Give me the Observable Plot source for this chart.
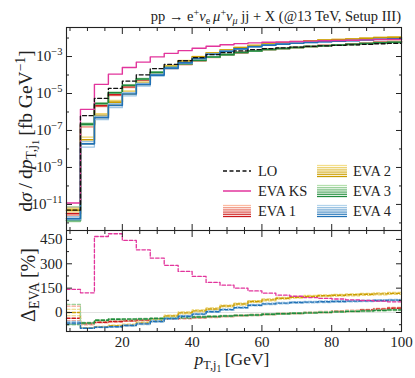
<!DOCTYPE html>
<html><head><meta charset="utf-8">
<script src="https://cdn.jsdelivr.net/npm/d3@7"></script>
<script src="https://cdn.jsdelivr.net/npm/@observablehq/plot@0.6"></script>
<style>
body{margin:0;background:#fff;}
#chart{position:relative;width:415px;height:378px;background:#fff;}
#chart svg{display:block;}
</style></head><body><div id="chart"></div>
<script>
// ---- data (bins of p_T,j1 in GeV) ----
const binEdges = [4, 8, 12, 16, 20, 24, 28, 32, 36, 40, 44, 48, 52, 56, 60, 64, 68, 72, 76, 80, 84, 88, 92, 96, 100];
// LO differential cross section [fb/GeV]
const loXsec = [4.9e-12, 6.3e-7, 5.5e-6, 1.9e-5, 4.7e-5, 1.02e-4, 2.2e-4, 3.8e-4, 5.9e-4, 8.7e-4, 1.26e-3, 1.62e-3, 2.0e-3, 2.34e-3, 2.69e-3, 2.95e-3, 3.24e-3, 3.55e-3, 3.8e-3, 4.0e-3, 4.27e-3, 4.57e-3, 4.9e-3, 5.1e-3];
// Delta_EVA [%] relative to LO
const ksDelta   = [142, 121, 468, 485, 444, 386, 335, 290, 253, 222, 185, 168, 150, 133, 119, 107, 100, 92, 87, 83, 78, 74, 70, 66];
const eva1Delta = [-35, -70, -60, -55, -51, -47, -43, -39, -35, -31, -27, -23, -19, -15, -11, -8, -5, -2, 2, 6, 10, 15, 20, 26];
const eva1Hi    = [39, -64, -55, -51, -47, -43, -39, -35, -31, -27, -23, -19, -15, -11, -7, -4, -1, 3, 7, 11, 15, 20, 25, 31];
const eva1Lo    = [-50, -76, -64, -59, -55, -51, -47, -43, -39, -35, -31, -27, -23, -19, -15, -12, -9, -6, -3, 1, 5, 10, 15, 21];
const eva2Delta = [0, -95, -88, -82, -76, -65, -48, -22, -2, 10, 22, 40, 52, 68, 78, 88, 94, 99, 103, 106, 109, 112, 115, 118];
const eva2Hi    = [20, -93, -85, -78, -71, -59, -42, -16, 4, 16, 28, 46, 58, 74, 84, 94, 100, 105, 109, 112, 115, 118, 121, 124];
const eva2Lo    = [-20, -97, -91, -86, -81, -71, -54, -28, -8, 4, 16, 34, 46, 62, 72, 82, 88, 93, 97, 100, 103, 106, 109, 112];
const eva3Delta = [-72, -65, -48, -42, -41, -40, -37, -34, -31, -28, -25, -22, -18, -15, -11, -8, -5, -2, 1, 4, 7, 10, 13, 16];
const eva3Hi    = [50, -60, -44, -38, -37, -36, -33, -30, -27, -24, -21, -18, -14, -11, -7, -4, -1, 2, 5, 8, 11, 14, 17, 20];
const eva3Lo    = [-76, -70, -52, -46, -45, -44, -41, -38, -35, -32, -29, -26, -22, -19, -15, -12, -9, -6, -3, 0, 3, 6, 9, 12];
const eva4Delta = [-65, -97, -91, -88, -80, -70, -55, -38, -23, -10, 5, 18, 30, 45, 53, 58, 62, 64, 66, 68, 70, 72, 74, 76];
const eva4Hi    = [-55, -96, -89, -85, -76, -65, -50, -33, -18, -5, 10, 23, 35, 50, 58, 63, 67, 69, 71, 73, 75, 77, 79, 81];
const eva4Lo    = [-70, -98, -93, -91, -84, -75, -60, -43, -28, -15, 0, 13, 25, 40, 48, 53, 57, 59, 61, 63, 65, 67, 69, 71];

const xMajorTicks = [20, 40, 60, 80, 100];
const xMinorTicks = [5, 10, 15, 25, 30, 35, 45, 50, 55, 65, 70, 75, 85, 90, 95];
const yTopTicks = [1e-3, 1e-5, 1e-7, 1e-9, 1e-11];
const yTopMinor = [1e-2, 1e-4, 1e-6, 1e-8, 1e-10, 1e-12];
const yBotTicks = [0, 150, 300, 450];
const yBotMinor = [-75, 75, 225, 375];

const ksColor = "#e2359c";
const evaSeries = [
  {name: "EVA 1", mid: eva1Delta, hi: eva1Hi, lo: eva1Lo, light: "#fcbba1", dark: "#cb181d"},
  {name: "EVA 2", mid: eva2Delta, hi: eva2Hi, lo: eva2Lo, light: "#f3df8a", dark: "#c99c00"},
  {name: "EVA 3", mid: eva3Delta, hi: eva3Hi, lo: eva3Lo, light: "#b5e0ae", dark: "#1f8a3e"},
  {name: "EVA 4", mid: eva4Delta, hi: eva4Hi, lo: eva4Lo, light: "#b3d4ec", dark: "#2171b5"}
];

const font = "'Liberation Serif', 'DejaVu Serif', serif";
const ink = "#222";
const W = 415, ML = 66, MR = 14;

const steps = (vals) => binEdges.map((x, i) => ({x, y: vals[Math.min(i, vals.length - 1)]}));
const toXsec = (delta) => loXsec.map((v, i) => v * (1 + delta[i] / 100));

function tickMarks(anchorsX, anchorsY, yMajor, yMinor) {
  const m = [];
  for (const a of anchorsX) {
    m.push(Plot.axisX({anchor: a, ticks: xMajorTicks, tickSize: -6, fill: null, stroke: ink, label: null}));
    m.push(Plot.axisX({anchor: a, ticks: xMinorTicks, tickSize: -3, fill: null, stroke: ink, label: null}));
  }
  for (const a of anchorsY) {
    m.push(Plot.axisY({anchor: a, ticks: yMajor, tickSize: -6, fill: null, stroke: ink, label: null}));
    m.push(Plot.axisY({anchor: a, ticks: yMinor, tickSize: -3, fill: null, stroke: ink, label: null}));
  }
  return m;
}

// ---- top panel ----
const topMarks = [];
for (const s of evaSeries) {
  const c1 = d3.interpolateRgb(s.light, s.dark)(0.15);
  topMarks.push(Plot.line(steps(toXsec(s.hi)), {x: "x", y: "y", curve: "step-after", stroke: c1, strokeWidth: 1.3}));
  topMarks.push(Plot.line(steps(toXsec(s.lo)), {x: "x", y: "y", curve: "step-after", stroke: c1, strokeWidth: 1.3}));
  topMarks.push(Plot.line(steps(toXsec(s.mid)), {x: "x", y: "y", curve: "step-after", stroke: s.dark, strokeWidth: 1.6}));
}
topMarks.push(Plot.line(steps(toXsec(ksDelta)), {x: "x", y: "y", curve: "step-after", stroke: ksColor, strokeWidth: 1.4}));
topMarks.push(Plot.line(steps(loXsec), {x: "x", y: "y", curve: "step-after", stroke: "#111", strokeWidth: 1.3, strokeDasharray: "4,2.5"}));

const topPlot = Plot.plot({
  width: W, height: 230, marginLeft: ML, marginRight: MR, marginTop: 27, marginBottom: 0,
  style: {fontFamily: font, fontSize: "14px", background: "white", color: ink},
  x: {domain: [4, 100]},
  y: {type: "log", domain: [Math.pow(10, -12.41), Math.pow(10, -1.43)]},
  marks: [
    ...topMarks,
    ...tickMarks(["top", "bottom"], ["left", "right"], yTopTicks, yTopMinor),
    Plot.axisY({anchor: "left", ticks: yTopTicks, tickSize: 0, tickPadding: 4, stroke: null, fill: ink, fontSize: 15,
      tickFormat: d => String(Math.round(Math.log10(d))), label: null}),
    Plot.frame({stroke: ink, strokeWidth: 1.1})
  ]
});

// ---- bottom panel ----
const botMarks = [Plot.ruleY([0], {stroke: "#e3e3e3", strokeWidth: 1})];
for (const s of evaSeries) {
  const c1 = d3.interpolateRgb(s.light, s.dark)(0.15);
  botMarks.push(Plot.line(steps(s.hi), {x: "x", y: "y", curve: "step-after", stroke: c1, strokeWidth: 1.2, strokeDasharray: "3.5,2"}));
  botMarks.push(Plot.line(steps(s.lo), {x: "x", y: "y", curve: "step-after", stroke: c1, strokeWidth: 1.2, strokeDasharray: "3.5,2"}));
  botMarks.push(Plot.line(steps(s.mid), {x: "x", y: "y", curve: "step-after", stroke: s.dark, strokeWidth: 1.4, strokeDasharray: "3.5,2"}));
}
botMarks.push(Plot.line(steps(ksDelta), {x: "x", y: "y", curve: "step-after", stroke: ksColor, strokeWidth: 1.3, strokeDasharray: "3.5,2"}));

const botPlot = Plot.plot({
  width: W, height: 148, marginLeft: ML, marginRight: MR, marginTop: 0, marginBottom: 47,
  style: {fontFamily: font, fontSize: "14px", background: "white", color: ink},
  x: {domain: [4, 100]},
  y: {domain: [-117, 505]},
  marks: [
    ...botMarks,
    ...tickMarks(["top", "bottom"], ["left", "right"], yBotTicks, yBotMinor),
    Plot.axisX({anchor: "bottom", ticks: xMajorTicks, tickSize: 0, tickPadding: 5, stroke: null, fill: ink, fontSize: 15, label: null}),
    Plot.axisY({anchor: "left", ticks: yBotTicks, tickSize: 0, tickPadding: 4, stroke: null, fill: ink, fontSize: 15, label: null}),
    Plot.frame({stroke: ink, strokeWidth: 1.1})
  ]
});

const chart = document.getElementById("chart");
chart.appendChild(topPlot);
chart.appendChild(botPlot);

// ---- rich text helpers ----
function rich(svg, x, y, parts, size, anchor, rotate) {
  const t = d3.select(svg).append("text")
    .attr("transform", `translate(${x},${y}) rotate(${rotate || 0})`)
    .attr("text-anchor", anchor || "start")
    .attr("font-family", font).attr("font-size", size).attr("fill", ink);
  for (const p of parts) {
    const s = t.append("tspan").text(p.t);
    if (p.i) s.attr("font-style", "italic");
    if (p.sub) s.attr("font-size", size * 0.7).attr("baseline-shift", (-size * 0.22) + "px");
    if (p.sub2) s.attr("font-size", size * 0.55).attr("baseline-shift", (-size * 0.38) + "px");
    if (p.sup) s.attr("font-size", size * 0.7).attr("baseline-shift", (size * 0.38) + "px");
  }
  return t;
}

// superscript exponents on log ticks
d3.select(topPlot).selectAll('g[aria-label="y-axis tick label"] text').each(function() {
  const e = this.textContent.replace("-", "\u2212");
  const sel = d3.select(this);
  sel.text("");
  sel.append("tspan").text("10");
  sel.append("tspan").attr("font-size", 10.5).attr("baseline-shift", "6px").text(e);
});

// title
rich(topPlot, 401, 21, [
  {t: "pp \u2192 e"}, {t: "+", sup: 1}, {t: "\u03bd", i: 1}, {t: "e", sub: 1}, {t: "\u2009"},
  {t: "\u03bc", i: 1}, {t: "+", sup: 1}, {t: "\u03bd", i: 1}, {t: "\u03bc", sub: 1, i: 1},
  {t: " jj + X (@13 TeV, Setup III)"}
], 14.5, "end");

// y label top
rich(topPlot, 32, 131, [
  {t: "d"}, {t: "\u03c3", i: 1}, {t: "\u2009/\u2009d"}, {t: "p", i: 1}, {t: "T,j", sub: 1}, {t: "1", sub2: 1},
  {t: "\u2009[fb GeV"}, {t: "\u22121", sup: 1}, {t: "]"}
], 19.5, "middle", -90);

// y label bottom
rich(botPlot, 35, 55, [
  {t: "\u0394"}, {t: "EVA", sub: 1}, {t: "\u2009[%]"}
], 20, "middle", -90);

// x label
rich(botPlot, 232, 135, [
  {t: "p", i: 1}, {t: "T,j", sub: 1}, {t: "1", sub2: 1}, {t: "\u2009[GeV]"}
], 17.5, "middle");

// legend (inside top panel)
const lg = d3.select(topPlot).append("g").attr("font-family", font).attr("font-size", 14.5).attr("fill", ink)
  .attr("text-anchor", "start");
const rowsY = [171, 191, 211];
const legendItems = [
  {col: 0, row: 0, label: "LO", type: "lo"},
  {col: 0, row: 1, label: "EVA KS", type: "ks"},
  {col: 0, row: 2, label: "EVA 1", type: "eva", s: evaSeries[0]},
  {col: 1, row: 0, label: "EVA 2", type: "eva", s: evaSeries[1]},
  {col: 1, row: 1, label: "EVA 3", type: "eva", s: evaSeries[2]},
  {col: 1, row: 2, label: "EVA 4", type: "eva", s: evaSeries[3]}
];
const colX = [[223, 251, 258], [317, 347, 353]];
for (const it of legendItems) {
  const [x1, x2, tx] = colX[it.col];
  const y = rowsY[it.row];
  if (it.type === "lo") {
    lg.append("line").attr("x1", x1).attr("x2", x2).attr("y1", y).attr("y2", y)
      .attr("stroke", "#111").attr("stroke-width", 1.4).attr("stroke-dasharray", "4,2.5");
  } else if (it.type === "ks") {
    lg.append("line").attr("x1", x1).attr("x2", x2).attr("y1", y).attr("y2", y)
      .attr("stroke", ksColor).attr("stroke-width", 1.5);
  } else {
    const interp = d3.interpolateRgb(it.s.light, it.s.dark);
    for (let k = 0; k < 6; k++) {
      const yy = y - 5.5 + k * 2.2;
      lg.append("line").attr("x1", x1).attr("x2", x2).attr("y1", yy).attr("y2", yy)
        .attr("stroke", interp(k / 5)).attr("stroke-width", 1.3);
    }
  }
  lg.append("text").attr("x", tx).attr("y", y).attr("dy", "0.35em").attr("text-anchor", "start").text(it.label);
}
</script>
</body></html>
